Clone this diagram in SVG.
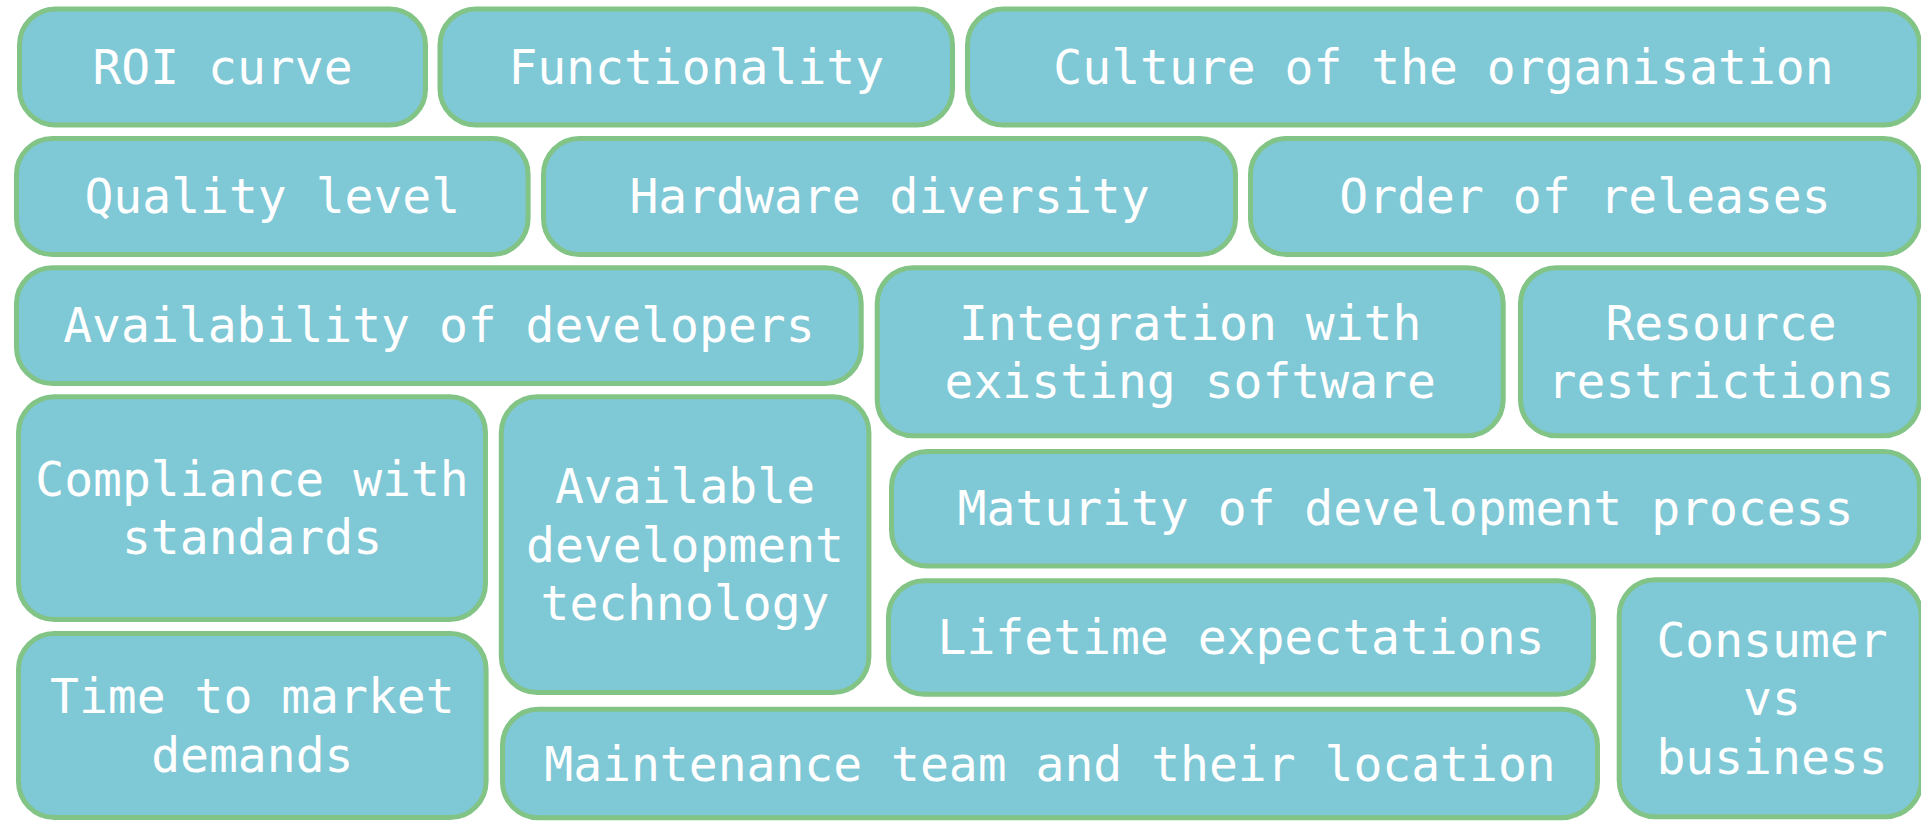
<svg xmlns="http://www.w3.org/2000/svg" width="1921" height="821" viewBox="0 0 1921 821">
<style>
.box{fill:#7FC8D6;stroke:#82C386;stroke-width:5}
.lbl{font-family:"DejaVu Sans Mono","Liberation Mono",monospace;font-size:48px;fill:#FFFFFF;text-anchor:middle}
</style>
<rect x="0" y="0" width="1921" height="821" fill="#FFFFFF"/>
<g id="connectors"></g>
<g id="roi"><rect class="box" x="19.5" y="9" width="406" height="116" rx="36"/><text class="lbl" x="222.5" y="84">ROI curve</text></g>
<g id="functionality"><rect class="box" x="440" y="9" width="512.5" height="116" rx="36"/><text class="lbl" x="696.25" y="84">Functionality</text></g>
<g id="culture"><rect class="box" x="967.5" y="9" width="952" height="116" rx="36"/><text class="lbl" x="1443.5" y="84">Culture of the organisation</text></g>
<g id="quality"><rect class="box" x="16.5" y="138.5" width="511.6" height="116" rx="36"/><text class="lbl" x="272.3" y="213">Quality level</text></g>
<g id="hardware"><rect class="box" x="543.5" y="138.5" width="692" height="116" rx="36"/><text class="lbl" x="889.5" y="213">Hardware diversity</text></g>
<g id="order"><rect class="box" x="1250.5" y="138.5" width="669" height="116" rx="36"/><text class="lbl" x="1585" y="213">Order of releases</text></g>
<g id="availability"><rect class="box" x="16.5" y="267.8" width="844.7" height="115.7" rx="36"/><text class="lbl" x="438.9" y="341.5">Availability of developers</text></g>
<g id="integration"><rect class="box" x="877.2" y="267.8" width="626" height="168" rx="36"/><text class="lbl" x="1190.2" y="339.6">Integration with</text><text class="lbl" x="1190.2" y="398.1">existing software</text></g>
<g id="resource"><rect class="box" x="1520.5" y="267.8" width="399" height="168" rx="36"/><text class="lbl" x="1721" y="339.6">Resource</text><text class="lbl" x="1721" y="398.1">restrictions</text></g>
<g id="compliance"><rect class="box" x="18.5" y="396.8" width="467" height="222.7" rx="36"/><text class="lbl" x="252" y="495.9">Compliance with</text><text class="lbl" x="252" y="554.4">standards</text></g>
<g id="devtech"><rect class="box" x="501.3" y="396.8" width="367.6" height="295.7" rx="36"/><text class="lbl" x="685" y="503.2">Available</text><text class="lbl" x="685" y="561.7">development</text><text class="lbl" x="685" y="620.2">technology</text></g>
<g id="maturity"><rect class="box" x="891.5" y="451.5" width="1028" height="114.5" rx="36"/><text class="lbl" x="1405.5" y="525">Maturity of development process</text></g>
<g id="lifetime"><rect class="box" x="888.5" y="580.8" width="705" height="113.5" rx="36"/><text class="lbl" x="1241" y="654">Lifetime expectations</text></g>
<g id="consumer"><rect class="box" x="1619.2" y="579.8" width="302" height="237" rx="36"/><text class="lbl" x="1772" y="656.8">Consumer</text><text class="lbl" x="1772" y="715.3">vs</text><text class="lbl" x="1772" y="773.8">business</text></g>
<g id="timetomarket"><rect class="box" x="18.5" y="633.5" width="467.6" height="184" rx="36"/><text class="lbl" x="252.3" y="713.3">Time to market</text><text class="lbl" x="252.3" y="771.8">demands</text></g>
<g id="maintenance"><rect class="box" x="502.5" y="709.2" width="1095" height="108.5" rx="36"/><text class="lbl" x="1050" y="780.5">Maintenance team and their location</text></g>
</svg>
